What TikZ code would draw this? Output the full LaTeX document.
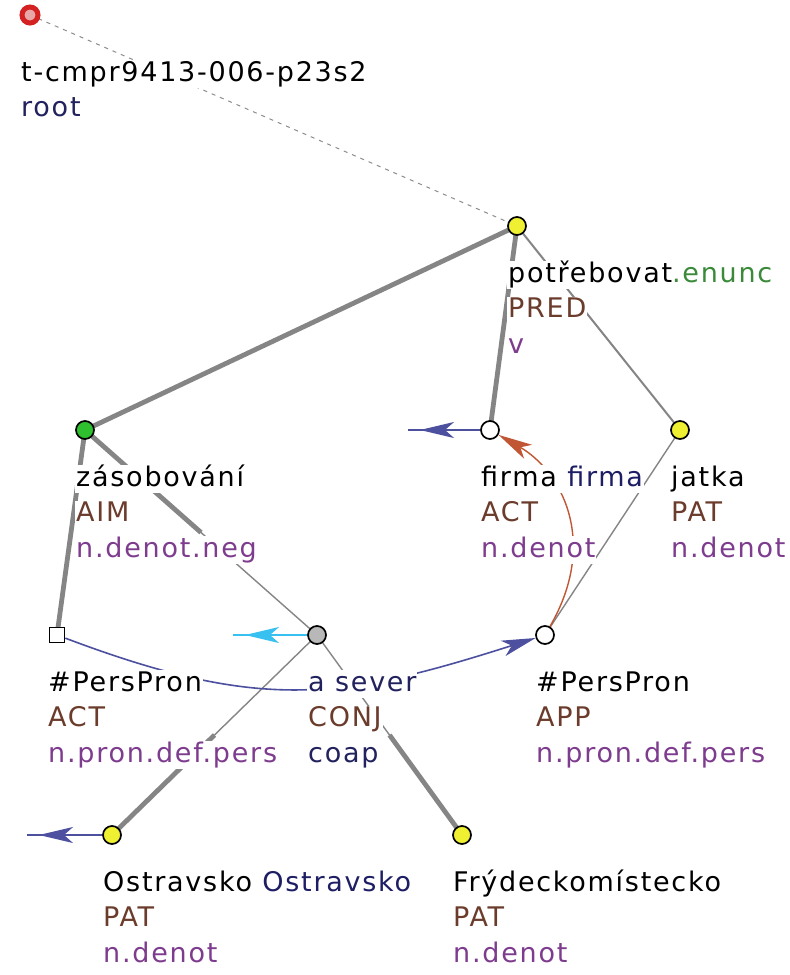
\documentclass[tikz,border=0pt]{standalone}
\usepackage{fontspec}
\newfontfamily\labelfont{DejaVu Sans}[LetterSpace=6.5]
\usetikzlibrary{arrows.meta,calc,backgrounds,decorations.markings}
\newcommand{\LineSep}{35.5}
\newcommand{\LabelDrop}{56}
\newcommand{\NodeSize}{18pt}
\definecolor{edgeGray}{HTML}{858585}
\definecolor{yellowFill}{HTML}{F0F032}
\definecolor{greenFill}{HTML}{2FC02F}
\definecolor{grayFill}{HTML}{B8B8B8}
\definecolor{rootRed}{HTML}{D42222}
\definecolor{rootPink}{HTML}{E8A8A8}
\definecolor{corefBlue}{HTML}{4C509F}
\definecolor{gramBrown}{HTML}{C05633}
\definecolor{specCyan}{HTML}{38C0F0}
\definecolor{lemmaBlue}{HTML}{1E1E64}
\definecolor{enuncGreen}{HTML}{3A8A3A}
\definecolor{funcBrown}{HTML}{6B3B2B}
\definecolor{gramPurple}{HTML}{7E3C8E}
\definecolor{coapBlue}{HTML}{22225E}
\newcommand{\TLabel}[3]{%
  % #1=node  #2=drop to first baseline  #3=lines
  \foreach \txt [count=\k] in {#3}{%
    \pgfmathsetmacro{\yy}{#2+\LineSep*(\k-1)}%
    \node[lbl] (#1-l\k) at ($(#1)+(-10,\yy)$) {\txt};
  }%
}
\newcommand{\Fn}[1]{\textcolor{funcBrown}{#1}}
\newcommand{\Gr}[1]{\textcolor{gramPurple}{#1}}

\begin{document}
\begin{tikzpicture}[
  x=1pt, y=-1pt,
  >=Stealth,
  tnode/.style    = {circle, draw=black, line width=1.7pt, minimum size=\NodeSize,
                     inner sep=0pt},
  pronnode/.style = {rectangle, draw=black, line width=1.7pt, minimum size=15pt,
                     inner sep=0pt, fill=white},
  rootnode/.style = {circle, draw=rootRed, line width=5pt, fill=rootPink,
                     minimum size=16pt, inner sep=0pt},
  lbl/.style      = {anchor=base west, fill=white, inner sep=1pt, text height=20pt,
                     text depth=6pt, font=\labelfont\fontsize{27}{35}\selectfont},
  treeedge/.style = {edgeGray, line width=4.8pt},
  thinedge/.style = {edgeGray, line width=1.4pt},
  rootedge/.style = {black!45, line width=1pt, dash pattern=on 4pt off 5pt},
  cortip/.style   = {-{Stealth[length=34pt,width=16pt,inset=9pt]}},
  outarrow/.style = {line width=1.8pt, postaction={decorate},
                     decoration={markings, mark=at position -12pt with
                       {\arrow{Stealth[length=34pt,width=16pt,inset=9pt]}}}},
]
\useasboundingbox (0,0) rectangle (790,975);

% ----------------------------------------------------------------
% Tree nodes
% ----------------------------------------------------------------
\node[rootnode] (root) at (30,15) {};
\node[tnode, fill=yellowFill] (potr)  at (517,226) {};
\node[tnode, fill=greenFill]  (zaso)  at (85,430) {};
\node[tnode, fill=white]      (firma) at (490,430) {};
\node[tnode, fill=yellowFill] (jatka) at (680,430) {};
\node[pronnode]               (persA) at (57,635) {};
\node[tnode, fill=grayFill]   (sever) at (317,635) {};
\node[tnode, fill=white]      (persB) at (545,635) {};
\node[tnode, fill=yellowFill] (ostr)  at (112,835) {};
\node[tnode, fill=yellowFill] (fryd)  at (462,835) {};

% free ends of the arrows into other sentences
\coordinate (firmaOut) at ($(firma)+(-82,0)$);
\coordinate (severOut) at ($(sever)+(-84,0)$);
\coordinate (ostrOut)  at ($(ostr)+(-85,0)$);

% ----------------------------------------------------------------
% Labels
% ----------------------------------------------------------------
\TLabel{root}{66}{{t-cmpr9413-006-p23s2}, {\textcolor{coapBlue}{root}}}
\TLabel{potr}{\LabelDrop}{{potřebovat\textcolor{enuncGreen}{.enunc}}, {\Fn{PRED}}, {\Gr{v}}}
\TLabel{zaso}{\LabelDrop}{{zásobování}, {\Fn{AIM}}, {\Gr{n.denot.neg}}}
\TLabel{firma}{\LabelDrop}{{firma \textcolor{lemmaBlue}{firma}}, {\Fn{ACT}}, {\Gr{n.denot}}}
\TLabel{jatka}{\LabelDrop}{{jatka}, {\Fn{PAT}}, {\Gr{n.denot}}}
\TLabel{persA}{\LabelDrop}{{\#PersPron}, {\Fn{ACT}}, {\Gr{n.pron.def.pers}}}
\TLabel{sever}{\LabelDrop}{{\textcolor{coapBlue}{a sever}}, {\Fn{CONJ}}, {\textcolor{coapBlue}{coap}}}
\TLabel{persB}{\LabelDrop}{{\#PersPron}, {\Fn{APP}}, {\Gr{n.pron.def.pers}}}
\TLabel{ostr}{\LabelDrop}{{Ostravsko \textcolor{lemmaBlue}{Ostravsko}}, {\Fn{PAT}}, {\Gr{n.denot}}}
\TLabel{fryd}{\LabelDrop}{{Frýdeckomístecko}, {\Fn{PAT}}, {\Gr{n.denot}}}

% ----------------------------------------------------------------
% Edges and coreference arrows (under the labels)
% ----------------------------------------------------------------
\begin{pgfonlayer}{background}
  \fill[white] (0,0) rectangle (790,975);

  \draw[rootedge] (root.center) -- (potr.center);

  \draw[treeedge] (potr.center) -- (zaso.center);
  \draw[treeedge] (potr.center) -- (firma.center);
  \draw[edgeGray, line width=2pt] (potr.center) -- (jatka.center);
  \draw[treeedge] (zaso.center) -- (persA.center);
  \draw[thinedge] (jatka.center) -- (persB.center);

  % coordination: thin half at the coap node
  \draw[treeedge] (zaso.center) -- ($(zaso)!0.5!(sever)$);
  \draw[thinedge] ($(zaso)!0.5!(sever)$) -- (sever.center);
  \draw[thinedge] (sever.center) -- ($(sever)!0.5!(ostr)$);
  \draw[treeedge] ($(sever)!0.5!(ostr)$) -- (ostr.center);
  \draw[thinedge] (sever.center) -- ($(sever)!0.5!(fryd)$);
  \draw[treeedge] ($(sever)!0.5!(fryd)$) -- (fryd.center);

  % coreference
  \draw[corefBlue, line width=1.6pt, cortip]
    (persA) .. controls (261,712) and (341,700) .. (persB);
  \draw[gramBrown, line width=1.4pt, cortip]
    (persB) .. controls (600,540) and (560,470) .. (firma);
  \draw[corefBlue, outarrow] (firma) -- (firmaOut);
  \draw[specCyan, outarrow] (sever) -- (severOut);
  \draw[corefBlue, outarrow] (ostr) -- (ostrOut);
\end{pgfonlayer}

\end{tikzpicture}
\end{document}
